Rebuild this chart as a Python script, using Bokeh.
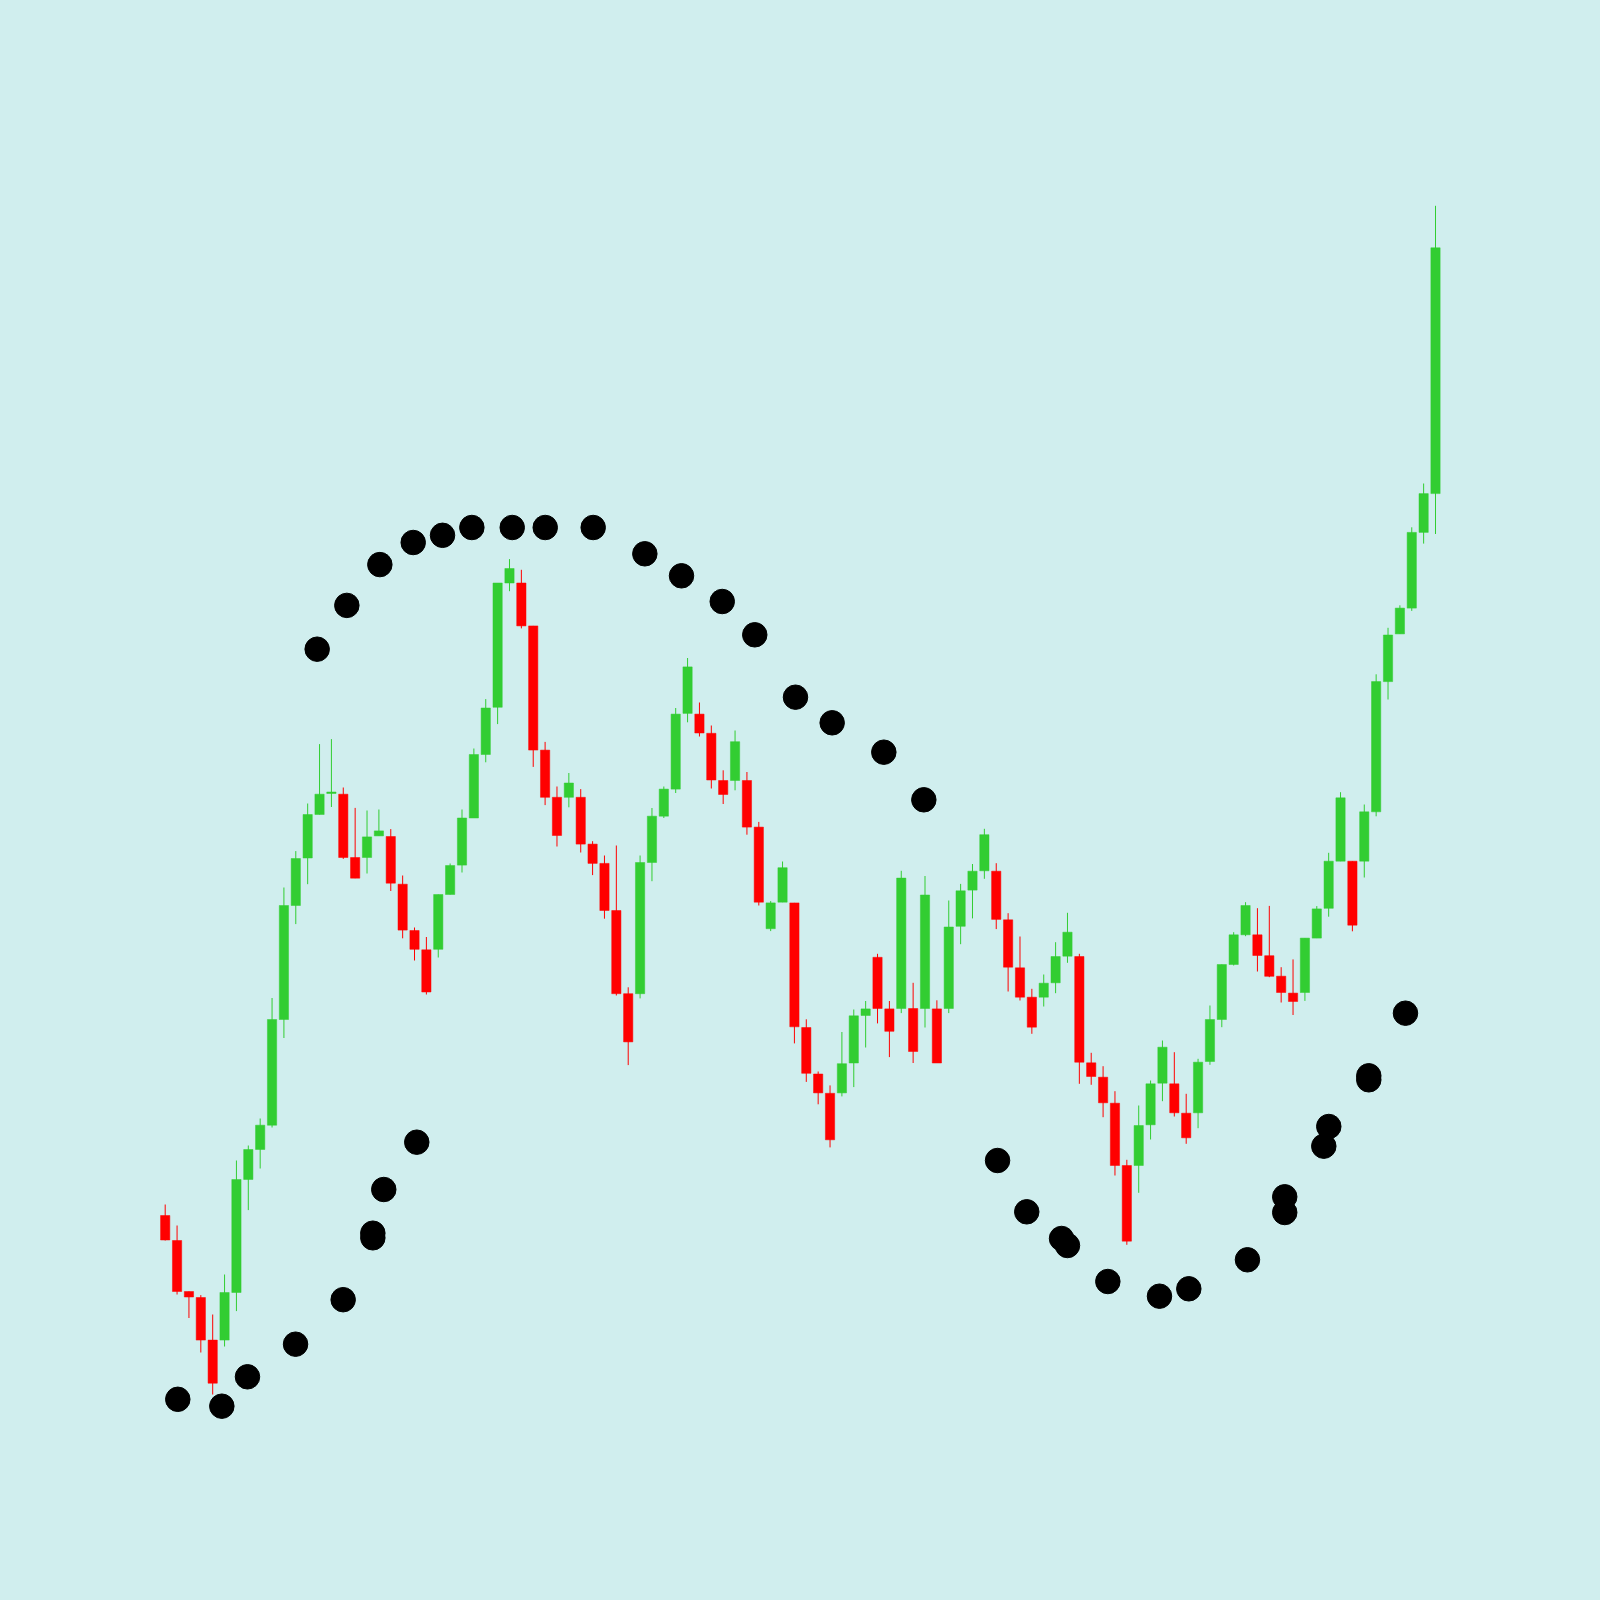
from bokeh.plotting import figure
from bokeh.models import ColumnDataSource, Range1d
from bokeh.embed import file_html
from bokeh.resources import INLINE

# OHLC values (108 sessions)
opens = [38.5, 36.0, 30.9, 30.3, 26.04, 26.04, 30.8, 42.1, 45.1, 47.53,
         58.1, 69.5, 74.25, 78.6, 80.7, 80.63, 74.3, 74.3, 76.46, 76.4,
         71.63, 67.0, 65.07, 65.12, 70.6, 73.54, 78.25, 84.6, 89.32, 101.75,
         101.75, 97.46, 85.04, 80.32, 80.32, 80.32, 75.64, 73.71, 69.0, 60.68,
         60.68, 73.8, 78.43, 81.14, 88.71, 88.64, 86.72, 82.0, 82.0, 82.0,
         77.34, 67.18, 69.83, 69.76, 57.3, 52.65, 50.72, 50.76, 53.75, 58.5,
         64.32, 59.16, 59.2, 59.2, 59.2, 59.16, 59.2, 67.42, 71.04, 72.97,
         72.93, 68.07, 63.27, 60.33, 60.33, 61.77, 64.43, 64.4, 53.77, 52.33,
         49.73, 43.5, 43.5, 47.57, 51.73, 51.67, 48.73, 48.77, 53.9, 58.1,
         63.6, 66.57, 66.57, 64.48, 62.43, 60.74, 60.8, 66.24, 69.22, 73.93,
         73.93, 73.93, 78.87, 91.89, 96.66, 99.24, 106.81, 110.69]
highs = [39.6, 37.5, 30.9, 30.54, 28.6, 32.6, 44.0, 45.5, 48.2, 60.25,
         71.3, 74.94, 79.7, 85.64, 86.14, 81.3, 79.26, 79.0, 79.1, 77.14,
         72.5, 67.3, 66.35, 70.6, 73.7, 79.1, 85.2, 90.14, 101.75, 104.14,
         103.07, 97.46, 85.86, 81.4, 82.75, 81.14, 75.93, 74.5, 75.5, 61.32,
         74.5, 79.25, 81.4, 89.25, 94.25, 89.8, 87.5, 83.02, 87.0, 82.85,
         77.86, 69.94, 73.9, 69.76, 58.12, 52.9, 51.51, 56.85, 59.1, 59.95,
         64.67, 59.95, 72.97, 61.77, 72.45, 60.02, 70.0, 71.66, 73.65, 77.17,
         73.73, 68.73, 66.4, 61.17, 62.6, 65.83, 68.77, 64.67, 54.77, 53.43,
         50.93, 44.07, 49.5, 52.0, 56.0, 54.83, 50.67, 54.17, 59.5, 63.6,
         66.83, 69.83, 69.23, 69.46, 63.33, 64.11, 66.24, 69.44, 74.77, 80.83,
         73.93, 79.6, 92.62, 97.27, 99.52, 107.32, 111.7, 139.47]
lows = [36.0, 30.6, 28.25, 24.8, 20.6, 25.4, 28.94, 39.04, 43.2, 47.3,
        56.25, 67.64, 71.63, 78.6, 79.35, 74.16, 72.23, 72.7, 76.46, 70.95,
        66.22, 64.0, 60.6, 64.3, 70.6, 72.8, 78.25, 83.82, 87.64, 100.93,
        97.21, 83.36, 79.54, 75.4, 79.32, 74.8, 72.54, 68.18, 60.5, 53.54,
        60.21, 71.93, 78.25, 80.75, 87.82, 86.4, 81.2, 79.65, 81.02, 76.58,
        69.5, 66.94, 69.83, 55.71, 51.86, 49.62, 45.31, 50.41, 51.34, 55.3,
        57.71, 54.34, 58.74, 53.75, 57.3, 53.75, 58.74, 65.63, 68.21, 72.17,
        67.14, 60.9, 60.0, 56.67, 59.4, 60.73, 63.77, 51.67, 51.57, 48.33,
        42.5, 35.57, 40.77, 46.1, 49.93, 48.4, 45.67, 47.23, 53.57, 57.33,
        63.5, 66.43, 62.9, 62.33, 59.8, 58.55, 59.96, 66.24, 68.38, 73.93,
        66.92, 72.3, 78.42, 90.1, 96.66, 98.96, 105.69, 106.65]
closes = [36.05, 30.9, 30.35, 26.04, 21.73, 30.8, 42.1, 45.1, 47.53, 58.1,
          69.5, 74.2, 78.6, 80.63, 80.85, 74.3, 72.23, 76.36, 76.96, 71.73,
          67.04, 65.12, 60.85, 70.6, 73.5, 78.25, 84.6, 89.25, 101.75, 103.2,
          97.46, 85.04, 80.32, 76.5, 81.75, 75.64, 73.71, 69.0, 60.68, 55.86,
          73.8, 78.43, 81.14, 88.64, 93.36, 86.75, 82.05, 80.6, 85.88, 77.34,
          69.83, 69.76, 73.28, 57.37, 52.72, 50.76, 46.07, 53.68, 58.47, 59.16,
          59.2, 56.92, 72.24, 54.9, 70.55, 53.75, 67.35, 70.97, 72.93, 76.58,
          68.11, 63.33, 60.33, 57.33, 61.73, 64.4, 66.83, 53.83, 52.4, 49.77,
          43.5, 35.93, 47.5, 51.67, 55.33, 48.77, 46.27, 53.83, 58.1, 63.6,
          66.57, 69.5, 64.5, 62.42, 60.8, 59.9, 66.24, 69.16, 73.93, 80.27,
          67.53, 78.87, 91.89, 96.55, 99.24, 106.81, 110.69, 135.27]

# Parabolic-SAR style dots (position in session units, value)
sar_x = [1.06, 4.77, 6.93, 10.98, 14.99, 17.49, 17.49, 18.41, 21.19,
         12.80, 15.30, 18.08, 20.89, 23.36, 25.83, 29.23, 32.01, 36.05,
         40.40, 43.49, 46.92, 49.66, 53.09, 56.18, 60.53, 63.90,
         70.11, 72.57, 75.50, 76.00, 79.40, 83.75, 86.22, 91.16,
         94.30, 94.30, 98.01, 97.59, 101.38, 101.38, 104.47]
sar_y = [20.12, 19.43, 22.37, 25.63, 30.08, 36.73, 36.27, 41.1, 45.83,
         95.13, 99.51, 103.59, 105.8, 106.52, 107.3, 107.3, 107.3, 107.3,
         104.67, 102.47, 99.9, 96.57, 90.33, 87.77, 84.83, 80.07,
         44.0, 38.87, 36.2, 35.5, 31.9, 30.43, 31.17, 34.07,
         40.37, 38.8, 47.4, 45.43, 52.47, 52.07, 58.73]

BG = "#D0EEEE"
UP = "#32CD32"
DOWN = "#FF0000"

idx = list(range(len(opens)))
colors = [UP if c >= o else DOWN for o, c in zip(opens, closes)]
tops = [max(o, c) for o, c in zip(opens, closes)]
bots = [min(o, c) for o, c in zip(opens, closes)]

src = ColumnDataSource(dict(x=idx, high=highs, low=lows, top=tops,
                            bottom=bots, color=colors))

p = figure(width=1584, height=1584, output_backend="svg", toolbar_location=None,
           x_axis_type=None, y_axis_type=None, min_border=0,
           x_range=Range1d(-13.873, 119.55), y_range=Range1d(1.6, 160.0))
p.background_fill_color = BG
p.border_fill_color = BG
p.outline_line_color = None

p.segment(x0="x", y0="high", x1="x", y1="low", color="color", line_width=1, source=src)
p.vbar(x="x", width=0.78, top="top", bottom="bottom", fill_color="color",
       line_color="color", line_width=0.5, source=src)
p.scatter(sar_x, sar_y, size=24.5, color="black", line_color="black")

html = file_html(p, INLINE)
html = html.replace("<head>", "<head><style>html,body{background:%s;}</style>" % BG, 1)
open("out.html", "w").write(html)
